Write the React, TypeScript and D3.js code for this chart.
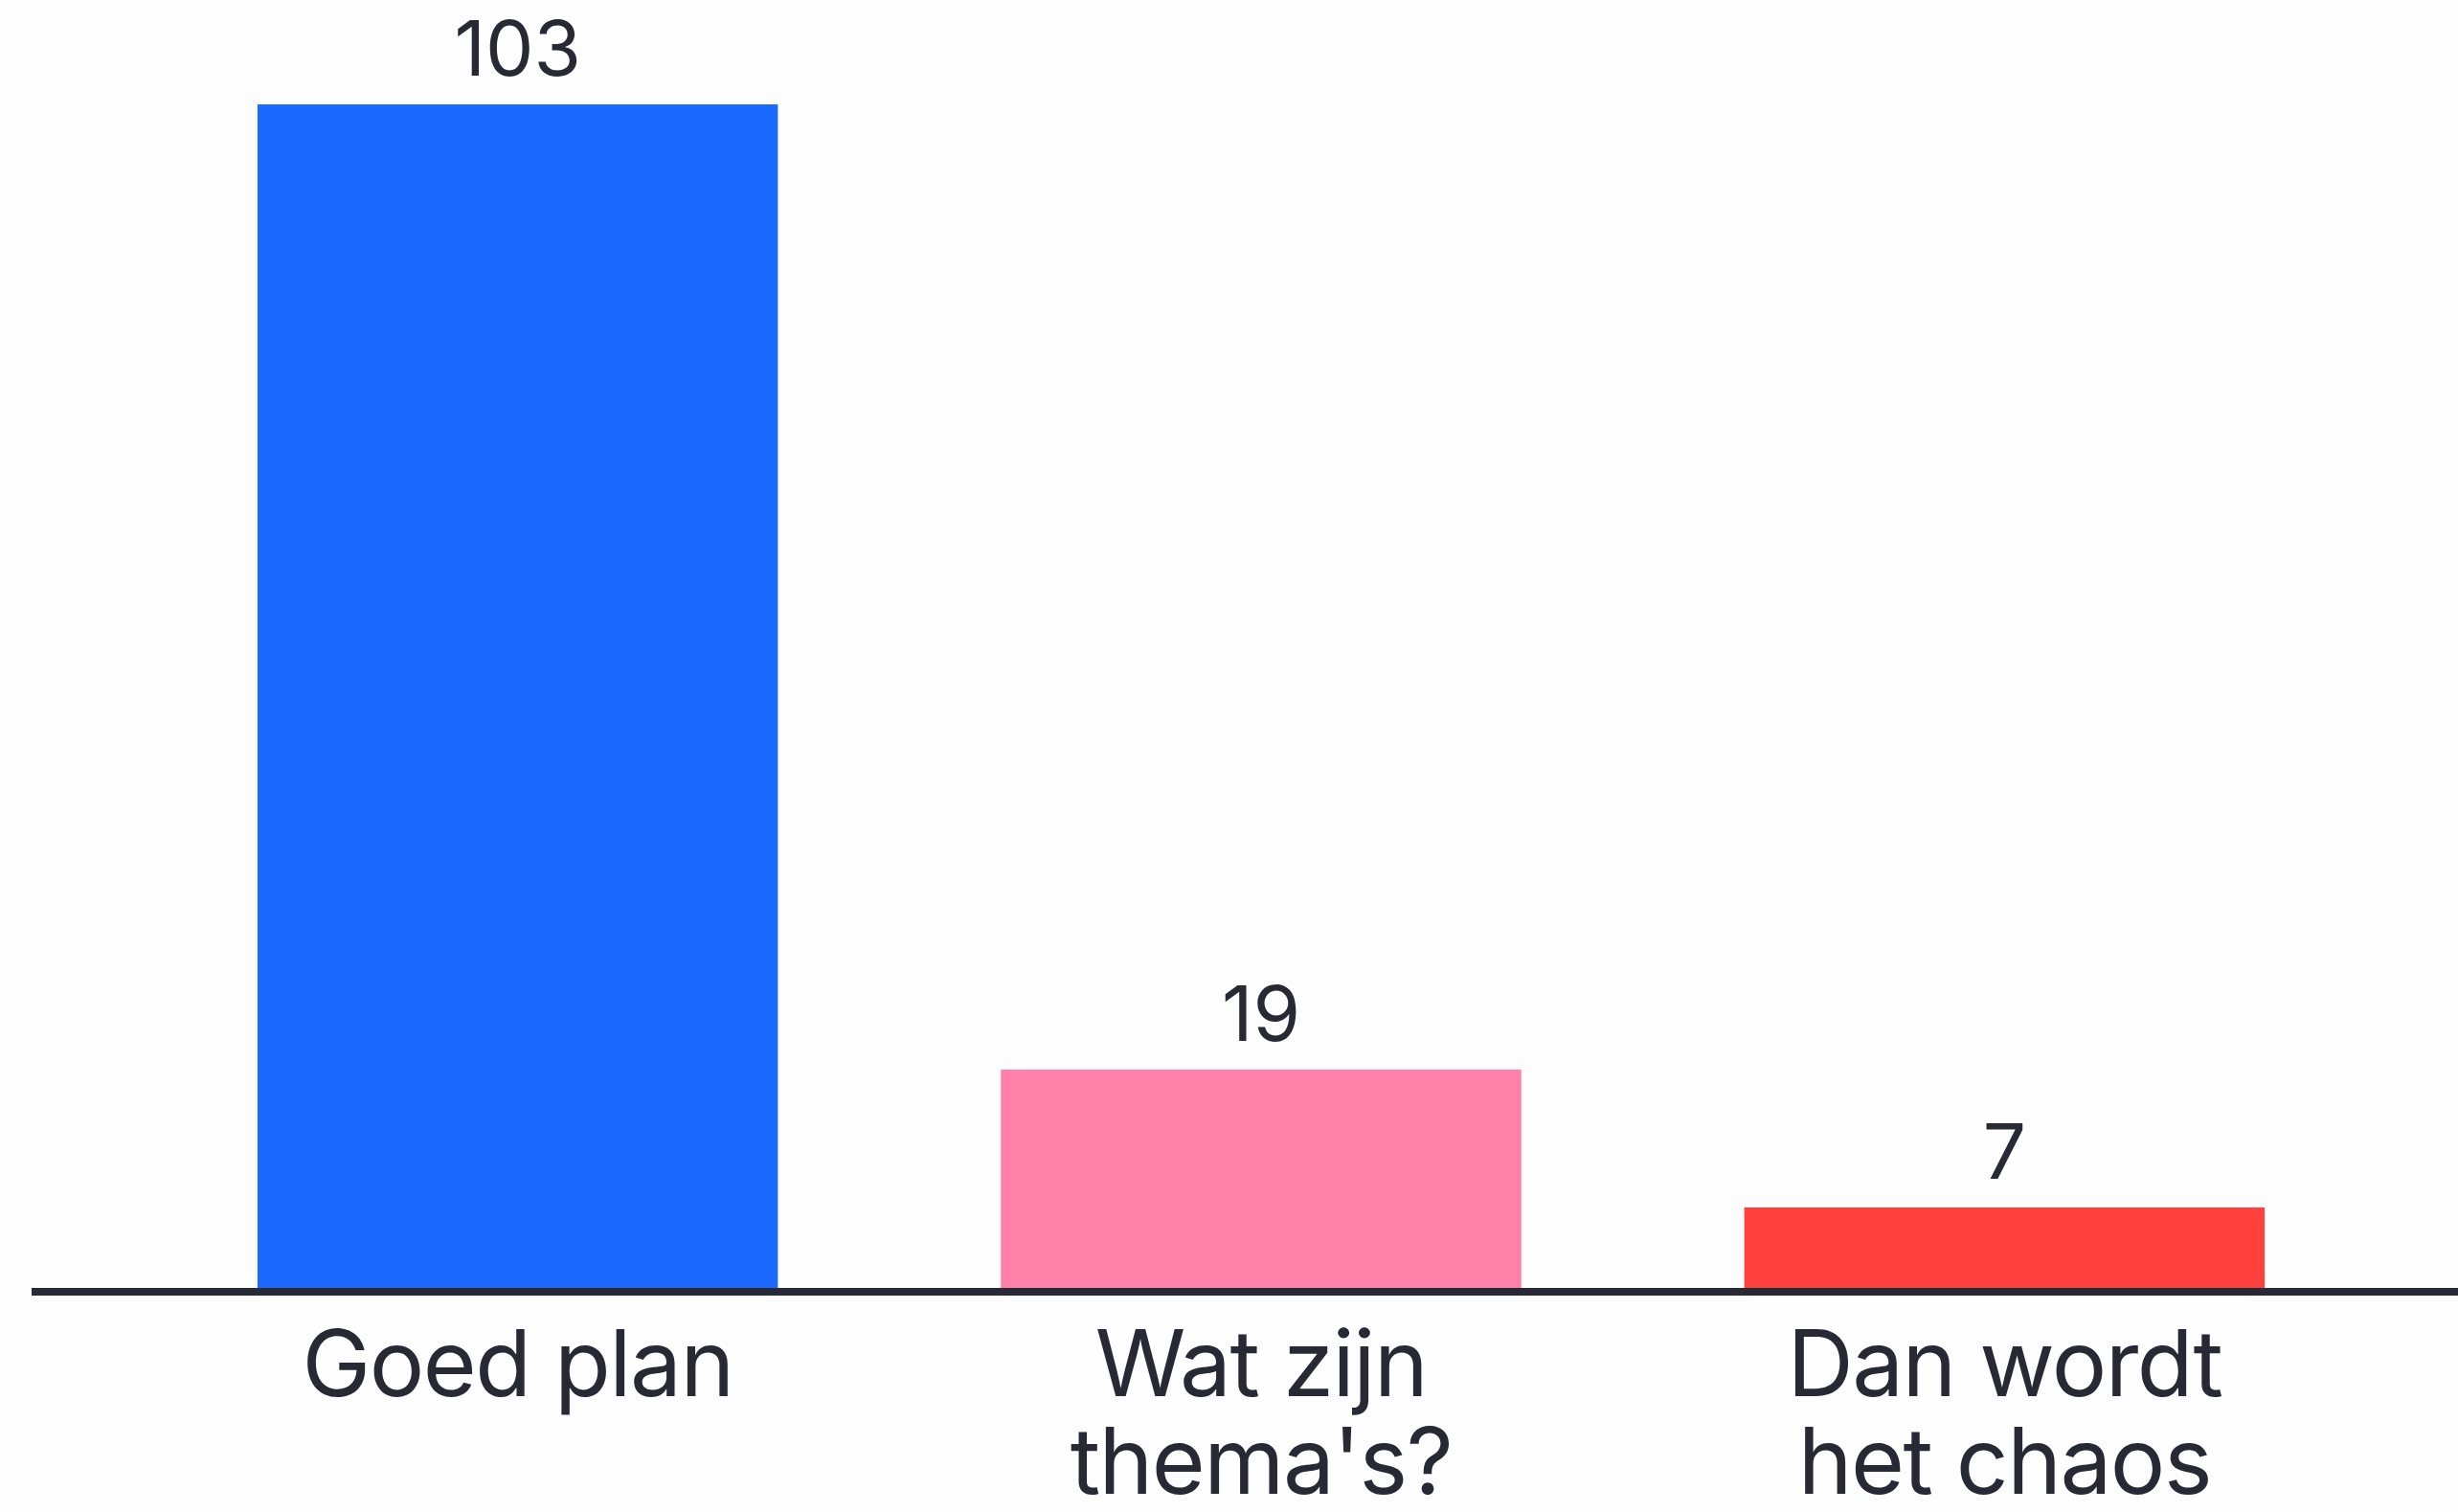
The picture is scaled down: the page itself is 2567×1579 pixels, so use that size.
import React from "react";
import * as d3 from "d3";

const categories: string[][] = [["Goed plan"], ["Wat zijn", "thema's?"], ["Dan wordt", "het chaos"]];
const values: number[] = [103, 19, 7];
const colors: string[] = ["#1C69FF", "#FF80A9", "#FF403C"];

const W = 2567;
const H = 1579;
const baseY = 1345;
const topY = 109;
const textColor = "#272A35";
const font = "Inter, 'Noto Sans', sans-serif";

export default function App() {
  const x = d3
    .scaleBand<number>()
    .domain(values.map((_, i) => i))
    .range([36, 2598])
    .paddingInner(0.3)
    .paddingOuter(0.3);
  const y = d3.scaleLinear().domain([0, 103]).range([baseY, topY]);

  return (
    <svg
      width={W}
      height={H}
      style={{ position: "absolute", left: 0, top: 0, background: "#FDFDFE" }}
    >
      <rect x={0} y={0} width={W} height={H} fill="#FDFDFE" />
      {values.map((v, i) => (
        <g key={i}>
          <rect
            x={x(i)!}
            y={y(v)}
            width={x.bandwidth()}
            height={y(0) - y(v)}
            fill={colors[i]}
          />
          <text
            x={x(i)! + x.bandwidth() / 2}
            y={y(v) - 30}
            textAnchor="middle"
            fontFamily={font}
            fontSize={80}
            fill={textColor}
          >
            {v}
          </text>
          {categories[i].map((line, j) => (
            <text
              key={j}
              x={x(i)! + x.bandwidth() / 2}
              y={1458 + j * 102}
              textAnchor="middle"
              fontFamily={font}
              fontSize={96}
              letterSpacing={-1.5}
              fill={textColor}
            >
              {line}
            </text>
          ))}
        </g>
      ))}
      <line x1={33} x2={W} y1={1349} y2={1349} stroke={textColor} strokeWidth={8} />
    </svg>
  );
}
